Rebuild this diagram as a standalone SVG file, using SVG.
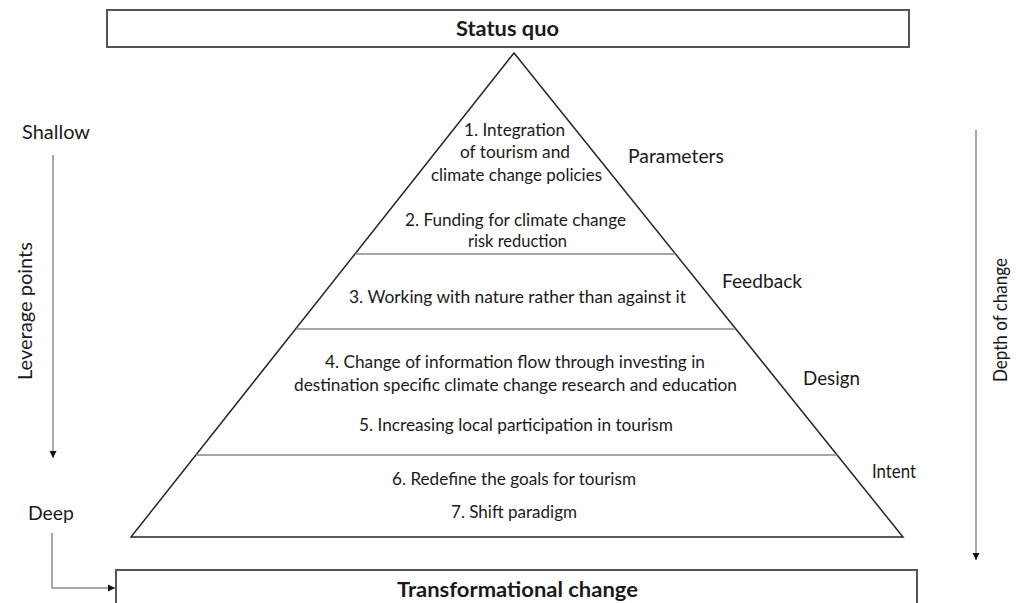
<svg xmlns="http://www.w3.org/2000/svg" width="1017" height="603" viewBox="0 0 1017 603">
  <style>
    .box { fill: #ffffff; stroke: #555555; stroke-width: 2; }
    .tri { fill: #ffffff; stroke: #262626; stroke-width: 1.5; stroke-linejoin: miter; }
    .div { stroke: #a6a6a6; stroke-width: 2; fill: none; }
    .t { font-family: Lato, "Liberation Sans", sans-serif; fill: #1a1a1a; }
    .in { font-size: 16.5px; text-anchor: middle; }
    .lab { font-size: 18.5px; }
    .bold { font-size: 20.5px; font-weight: bold; text-anchor: middle; }
    .conn { stroke: #8c8c8c; stroke-width: 1.5; fill: none; }
  </style>
  <defs>
    <marker id="ah" markerUnits="userSpaceOnUse" markerWidth="8" markerHeight="8" refX="7" refY="4" orient="auto">
      <path d="M0,0.5 L7,4 L0,7.5 z" fill="#111111"/>
    </marker>
  </defs>
  <rect width="1017" height="603" fill="#ffffff"/>

  <g id="status-quo">
    <rect class="box" x="107" y="10" width="802" height="37"/>
    <text class="t bold" x="507.5" y="36" textLength="103" lengthAdjust="spacingAndGlyphs">Status quo</text>
  </g>

  <g id="pyramid">
    <polygon class="tri" points="514,53 131,537 903,537"/>
    <line class="div" x1="355.5" y1="254" x2="675" y2="254"/>
    <line class="div" x1="296.5" y1="329" x2="735" y2="329"/>
    <line class="div" x1="196.5" y1="455" x2="836.5" y2="455"/>
  </g>

  <g id="level-parameters">
    <text class="t in" x="514.5" y="136" textLength="101" lengthAdjust="spacingAndGlyphs">1. Integration</text>
    <text class="t in" x="515" y="158" textLength="110" lengthAdjust="spacingAndGlyphs">of tourism and</text>
    <text class="t in" x="516.5" y="181" textLength="171" lengthAdjust="spacingAndGlyphs">climate change policies</text>
    <text class="t in" x="515.5" y="226" textLength="221" lengthAdjust="spacingAndGlyphs">2. Funding for climate change</text>
    <text class="t in" x="517.5" y="247" textLength="99" lengthAdjust="spacingAndGlyphs">risk reduction</text>
    <text class="t lab" x="628" y="163" textLength="96" lengthAdjust="spacingAndGlyphs">Parameters</text>
  </g>

  <g id="level-feedback">
    <text class="t in" x="517.5" y="303" textLength="337" lengthAdjust="spacingAndGlyphs">3. Working with nature rather than against it</text>
    <text class="t lab" x="722" y="288" textLength="80" lengthAdjust="spacingAndGlyphs">Feedback</text>
  </g>

  <g id="level-design">
    <text class="t in" x="515" y="368" textLength="380" lengthAdjust="spacingAndGlyphs">4. Change of information flow through investing in</text>
    <text class="t in" x="515.5" y="391" textLength="443" lengthAdjust="spacingAndGlyphs">destination specific climate change research and education</text>
    <text class="t in" x="516" y="431" textLength="314" lengthAdjust="spacingAndGlyphs">5. Increasing local participation in tourism</text>
    <text class="t lab" x="803" y="385" textLength="57" lengthAdjust="spacingAndGlyphs">Design</text>
  </g>

  <g id="level-intent">
    <text class="t in" x="514" y="485" textLength="244" lengthAdjust="spacingAndGlyphs">6. Redefine the goals for tourism</text>
    <text class="t in" x="514" y="518" textLength="126" lengthAdjust="spacingAndGlyphs">7. Shift paradigm</text>
    <text class="t lab" x="872" y="478" textLength="44" lengthAdjust="spacingAndGlyphs">Intent</text>
  </g>

  <g id="transformational-change">
    <rect class="box" x="116" y="570" width="801" height="50"/>
    <text class="t bold" x="517.5" y="597" textLength="241" lengthAdjust="spacingAndGlyphs">Transformational change</text>
  </g>

  <g id="leverage-axis">
    <text class="t lab" x="22" y="139" textLength="68" lengthAdjust="spacingAndGlyphs">Shallow</text>
    <text class="t lab" x="28" y="520" textLength="46" lengthAdjust="spacingAndGlyphs">Deep</text>
    <text class="t lab" x="32" y="311" text-anchor="middle" transform="rotate(-90 32 311)" textLength="138" lengthAdjust="spacingAndGlyphs">Leverage points</text>
  </g>

  <g id="depth-axis">
    <text class="t lab" x="1007" y="320" text-anchor="middle" transform="rotate(-90 1007 320)" textLength="124" lengthAdjust="spacingAndGlyphs">Depth of change</text>
  </g>

  <g id="connectors">
    <line class="conn" x1="53" y1="155" x2="53" y2="458" marker-end="url(#ah)"/>
    <polyline class="conn" points="52,533 52,588 115,588" marker-end="url(#ah)"/>
    <line class="conn" x1="976" y1="130" x2="976" y2="560" marker-end="url(#ah)"/>
  </g>
</svg>
